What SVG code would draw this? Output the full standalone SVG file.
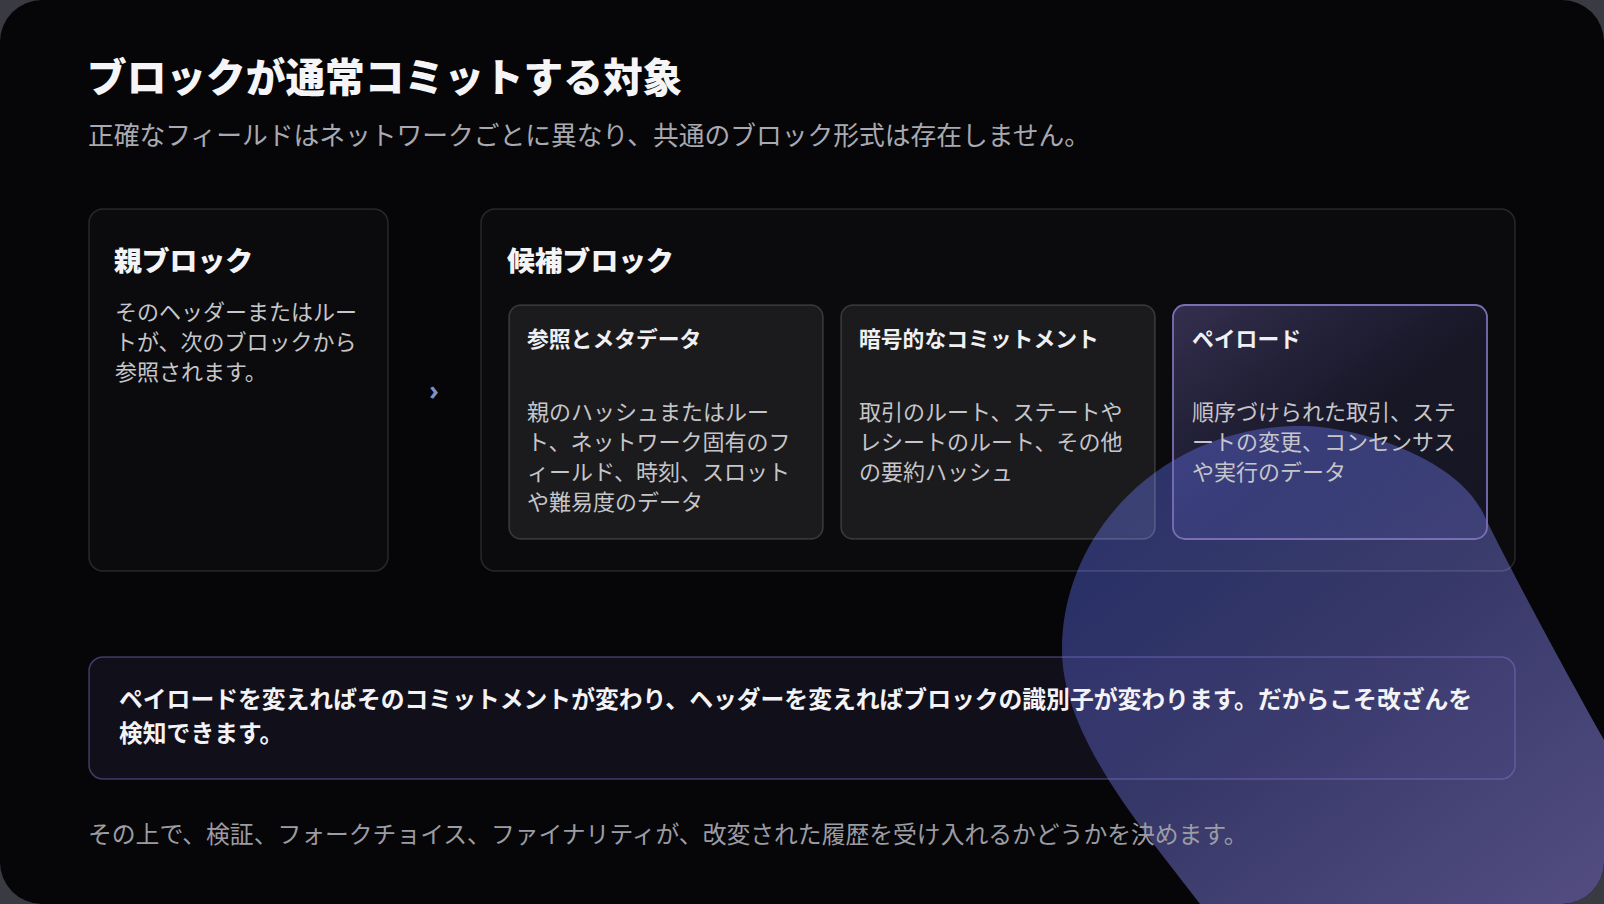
<svg xmlns="http://www.w3.org/2000/svg" width="1604" height="904" viewBox="0 0 1604 904">
  <defs>
    <style>
      text { font-family: "Noto Sans CJK JP", "Noto Sans CJK SC", "Noto Sans", sans-serif; }
      .title { font-size: 39.7px; font-weight: 900; fill: #f5f5f7; }
      .subtitle { font-size: 25.75px; fill: #a9a9b1; }
      .h2 { font-size: 27.8px; font-weight: 900; fill: #f4f4f6; }
      .h3 { font-size: 21.8px; font-weight: 700; fill: #f0f0f2; }
      .body { font-size: 22px; fill: #c6c6ca; }
      .callout-text { font-size: 23.8px; font-weight: 700; fill: #f3f3f5; }
      .footer { font-size: 23.8px; fill: #9c9ca4; }
      .panel { fill: rgba(255,255,255,0.022); stroke: rgba(255,255,255,0.13); stroke-width: 1.5; }
      .card { fill: rgba(255,255,255,0.068); stroke: rgba(255,255,255,0.17); stroke-width: 1.5; }
      .card-hl { fill: url(#hlFill); stroke: #7a6fb5; stroke-width: 1.8; }
      .callout-box { fill: rgba(80,70,140,0.14); stroke: rgba(130,120,210,0.45); stroke-width: 1.5; }
      .chev { font-family: "Noto Sans", "DejaVu Sans", sans-serif; font-size: 26px; font-weight: 700; fill: #8090c8; }
    </style>
    <clipPath id="slideClip">
      <rect x="0" y="0" width="1604" height="904" rx="42" ry="42"/>
    </clipPath>
    <linearGradient id="blobFill" gradientUnits="userSpaceOnUse" x1="1200" y1="430" x2="1560" y2="900">
      <stop offset="0" stop-color="#272f66"/>
      <stop offset="0.45" stop-color="#363868"/>
      <stop offset="1" stop-color="#514b80"/>
    </linearGradient>
    <linearGradient id="hlFill" x1="0" y1="0" x2="1" y2="1">
      <stop offset="0" stop-color="rgba(150,130,230,0.30)"/>
      <stop offset="0.55" stop-color="rgba(110,110,220,0.12)"/>
      <stop offset="1" stop-color="rgba(110,110,220,0.10)"/>
    </linearGradient>
  </defs>

  <g id="background">
    <rect x="0" y="0" width="1604" height="904" fill="#3a3a42"/>
    <rect x="0" y="0" width="1604" height="904" rx="42" ry="42" fill="#060608"/>
  </g>

  <g id="decor" clip-path="url(#slideClip)">
    <path d="M 1200 904 C 1152 840 1062 740 1062 650 C 1062 527 1169 426 1300 426 C 1360 426 1457 459 1483 513 C 1502 552 1545 635 1604 740 L 1660 840 L 1660 920 L 1200 920 Z" fill="url(#blobFill)"/>
  </g>

  <g id="heading">
    <text class="title" x="87" y="92">ブロックが通常コミットする対象</text>
    <text class="subtitle" x="88" y="145">正確なフィールドはネットワークごとに異なり、共通のブロック形式は存在しません。</text>
  </g>

  <g id="node-parent">
    <rect class="panel" x="89" y="209" width="299" height="362" rx="14" ry="14"/>
    <text class="h2" x="114" y="271">親ブロック</text>
    <text class="body" x="115" y="320">そのヘッダーまたはルー</text>
    <text class="body" x="115" y="350">トが、次のブロックから</text>
    <text class="body" x="115" y="380">参照されます。</text>
  </g>

  <g id="connectors">
    <text class="chev" x="434" y="400" text-anchor="middle">›</text>
  </g>

  <g id="node-candidate">
    <rect class="panel" x="481" y="209" width="1034" height="362" rx="14" ry="14"/>
    <text class="h2" x="507" y="271">候補ブロック</text>
  </g>

  <g id="node-refs">
    <rect class="card" x="509" y="305" width="314" height="234" rx="12" ry="12"/>
    <text class="h3" x="527" y="347">参照とメタデータ</text>
    <text class="body" x="527" y="420">親のハッシュまたはルー</text>
    <text class="body" x="527" y="450">ト、ネットワーク固有のフ</text>
    <text class="body" x="527" y="480">ィールド、時刻、スロット</text>
    <text class="body" x="527" y="510">や難易度のデータ</text>
  </g>

  <g id="node-commit">
    <rect class="card" x="841" y="305" width="314" height="234" rx="12" ry="12"/>
    <text class="h3" x="859" y="347">暗号的なコミットメント</text>
    <text class="body" x="859" y="420">取引のルート、ステートや</text>
    <text class="body" x="859" y="450">レシートのルート、その他</text>
    <text class="body" x="859" y="480">の要約ハッシュ</text>
  </g>

  <g id="node-payload">
    <rect class="card-hl" x="1173" y="305" width="314" height="234" rx="12" ry="12"/>
    <text class="h3" x="1192" y="347">ペイロード</text>
    <text class="body" x="1192" y="420">順序づけられた取引、ステ</text>
    <text class="body" x="1192" y="450">ートの変更、コンセンサス</text>
    <text class="body" x="1192" y="480">や実行のデータ</text>
  </g>

  <g id="node-callout">
    <rect class="callout-box" x="89" y="657" width="1426" height="122" rx="14" ry="14"/>
    <text class="callout-text" x="119" y="708">ペイロードを変えればそのコミットメントが変わり、ヘッダーを変えればブロックの識別子が変わります。だからこそ改ざんを</text>
    <text class="callout-text" x="119" y="742">検知できます。</text>
  </g>

  <g id="footer">
    <text class="footer" x="88" y="843">その上で、検証、フォークチョイス、ファイナリティが、改変された履歴を受け入れるかどうかを決めます。</text>
  </g>
</svg>
